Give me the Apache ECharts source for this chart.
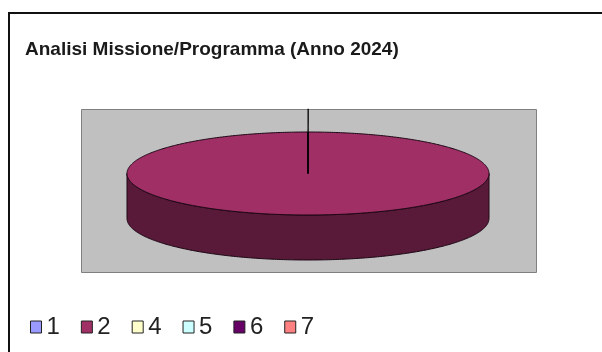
<!DOCTYPE html>
<html>
<head>
<meta charset="utf-8">
<script src="https://cdn.jsdelivr.net/npm/echarts@6/dist/echarts.min.js"></script>
<style>
    html, body { margin: 0; padding: 0; background: #fff; }
    #main { width: 602px; height: 352px; }
</style>
</head>
<body>
<div id="main"></div>
<script>
    // dati
    var titleText = 'Analisi Missione/Programma (Anno 2024)';
    var sliceNames = ['1', '2', '4', '5', '6', '7'];
    var sliceValues = [0.02, 99.96, 0, 0, 0.02, 0];
    var sliceColors = ['#9999FF', '#A02F66', '#FFFFCC', '#CCFFFF', '#660066', '#FF8080'];

    // geometria della torta 3D (ellisse + spessore)
    var cx = 308, cy = 173.5, rx = 181, ry = 41.5, depth = 45;

    var total = sliceValues.reduce(function (a, b) { return a + b; }, 0);
    var startAngles = [];
    var acc = 0;
    sliceValues.forEach(function (v) {
        startAngles.push(acc / total * Math.PI * 2 - Math.PI / 2);
        acc += v;
    });

    function shade(hex, k) {
        var n = parseInt(hex.slice(1), 16);
        var r = Math.round(((n >> 16) & 255) * k);
        var g = Math.round(((n >> 8) & 255) * k);
        var b = Math.round((n & 255) * k);
        return 'rgb(' + r + ',' + g + ',' + b + ')';
    }

    function arcPts(a0, a1, dy) {
        var pts = [];
        var n = Math.max(2, Math.ceil(Math.abs(a1 - a0) / 0.01));
        for (var i = 0; i <= n; i++) {
            var a = a0 + (a1 - a0) * i / n;
            pts.push([cx + rx * Math.cos(a), cy + dy + ry * Math.sin(a)]);
        }
        return pts;
    }

    function renderSlice(idx) {
        return function (params, api) {
            var v = api.value(0);
            var children = [];
            if (!(v > 0)) {
                return { type: 'group', children: children };
            }
            var a0 = startAngles[idx];
            var a1 = a0 + v / total * Math.PI * 2;
            var color = sliceColors[idx];

            // lato frontale visibile (angoli tra 0 e PI)
            var s = Math.max(a0, 0), e = Math.min(a1, Math.PI);
            if (e > s) {
                var top = arcPts(s, e, 0);
                var bottom = arcPts(e, s, depth);
                children.push({
                    type: 'polygon',
                    z2: 1,
                    shape: { points: top.concat(bottom) },
                    style: { fill: shade(color, 0.55), stroke: '#1a0612', lineWidth: 1 }
                });
            }
            // faccia superiore
            children.push({
                type: 'polygon',
                z2: 10,
                shape: { points: [[cx, cy]].concat(arcPts(a0, a1, 0)) },
                style: { fill: color, stroke: '#1a0612', lineWidth: 1 }
            });
            // linea guida dell'etichetta della prima fetta
            if (idx === 0) {
                var m = (a0 + a1) / 2;
                children.push({
                    type: 'line',
                    z2: 11,
                    shape: {
                        x1: cx, y1: cy,
                        x2: cx + rx * Math.cos(m) * 1.56, y2: cy + ry * Math.sin(m) * 1.56
                    },
                    style: { stroke: '#000', lineWidth: 1.3 }
                });
            }
            return { type: 'group', children: children };
        };
    }

    var series = sliceNames.map(function (name, i) {
        return {
            name: name,
            type: 'custom',
            coordinateSystem: 'none',
            silent: true,
            itemStyle: { color: sliceColors[i] },
            renderItem: renderSlice(i),
            data: [[sliceValues[i]]]
        };
    });

    var myChart = echarts.init(document.getElementById('main'));
    myChart.setOption({
        animation: false,
        title: {
            text: titleText,
            left: 20,
            top: 35,
            textStyle: {
                fontFamily: 'Liberation Sans',
                fontSize: 19,
                fontWeight: 'bold',
                color: '#1a1a1a'
            }
        },
        legend: {
            data: sliceNames,
            left: 25,
            top: 310,
            icon: 'rect',
            itemWidth: 11,
            itemHeight: 12,
            itemGap: 21,
            itemStyle: { borderColor: '#222', borderWidth: 1 },
            textStyle: { fontFamily: 'Liberation Sans', fontSize: 24, color: '#222' }
        },
        graphic: [
            {
                type: 'rect',
                z: -10,
                shape: { x: 9, y: 13, width: 700, height: 400 },
                style: { fill: '#fff', stroke: '#111', lineWidth: 2 }
            },
            {
                type: 'rect',
                z: -5,
                shape: { x: 81.5, y: 109.5, width: 455, height: 163 },
                style: { fill: '#C0C0C0', stroke: '#808080', lineWidth: 1 }
            }
        ],
        series: series
    });
</script>
</body>
</html>
